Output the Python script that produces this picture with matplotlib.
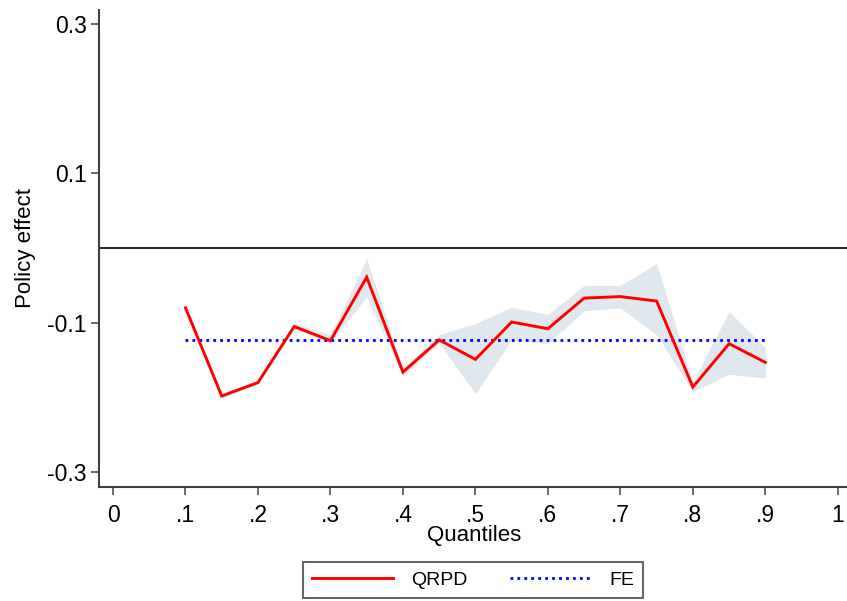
import numpy as np
import matplotlib.pyplot as plt

plt.rcParams['font.family'] = ['Liberation Sans', 'DejaVu Sans']

# quantile regression estimates with confidence band, and the FE estimate
quantiles = [0.10, 0.15, 0.20, 0.25, 0.30, 0.35, 0.40, 0.45, 0.50,
             0.55, 0.60, 0.65, 0.70, 0.75, 0.80, 0.85, 0.90]
qrpd = [-0.080, -0.198, -0.180, -0.105, -0.124, -0.039, -0.166, -0.123, -0.149,
        -0.099, -0.108, -0.067, -0.065, -0.071, -0.186, -0.128, -0.153]
ci_upper = [-0.078, -0.195, -0.177, -0.101, -0.116, -0.014, -0.161, -0.116, -0.101,
            -0.079, -0.089, -0.050, -0.050, -0.021, -0.179, -0.085, -0.133]
ci_lower = [-0.082, -0.201, -0.182, -0.108, -0.127, -0.065, -0.172, -0.127, -0.195,
            -0.123, -0.128, -0.084, -0.080, -0.116, -0.192, -0.169, -0.174]
fe = -0.1237

xticks = [0, 0.1, 0.2, 0.3, 0.4, 0.5, 0.6, 0.7, 0.8, 0.9, 1.0]
xticklabels = ['0', '.1', '.2', '.3', '.4', '.5', '.6', '.7', '.8', '.9', '1']
yticks = [-0.3, -0.1, 0.1, 0.3]
yticklabels = ['-0.3', '-0.1', '0.1', '0.3']

fig = plt.figure(figsize=(8.47, 6.01), dpi=100)
ax = fig.add_axes([0.1169, 0.1897, 0.8831 + 0.002, 0.7937])

ax.fill_between(quantiles, ci_lower, ci_upper, color='#e0e8ed', lw=0, zorder=1)
ax.axhline(0, color='black', lw=1.2, zorder=2)
l1, = ax.plot(quantiles, qrpd, color='#ff0000', lw=2.1, zorder=4,
              solid_joinstyle='miter')
l2, = ax.plot([quantiles[0], quantiles[-1]], [fe, fe], color='#0000ff', lw=2,
              linestyle=(0, (1, 1.5)), zorder=3)

ax.set_xlim(-0.0193, 1.015)
ax.set_ylim(-0.3197, 0.3184)
ax.set_xticks(xticks)
ax.set_xticklabels(xticklabels)
ax.set_yticks(yticks)
ax.set_yticklabels(yticklabels)
ax.tick_params(axis='both', direction='out', length=6, width=1.1,
               color='#404040', labelsize=16.5, pad=3)
ax.tick_params(axis='x', pad=6)

for side in ['top', 'right']:
    ax.spines[side].set_visible(False)
for side in ['left', 'bottom']:
    ax.spines[side].set_color('#404040')
    ax.spines[side].set_linewidth(1.5)

ax.set_xlabel('Quantiles', fontsize=16, labelpad=-1)
ax.set_ylabel('Policy effect', fontsize=16, labelpad=8)

leg = fig.legend([l1, l2], ['QRPD', 'FE'], ncol=2, loc='center',
                 bbox_to_anchor=(473 / 847, 1 - 580 / 601), fontsize=14,
                 fancybox=False, edgecolor='#404040', handlelength=4.2,
                 columnspacing=2.2, handletextpad=0.9, borderpad=0.45)
leg.get_frame().set_linewidth(1.5)

fig.savefig('out.png', dpi=100)
